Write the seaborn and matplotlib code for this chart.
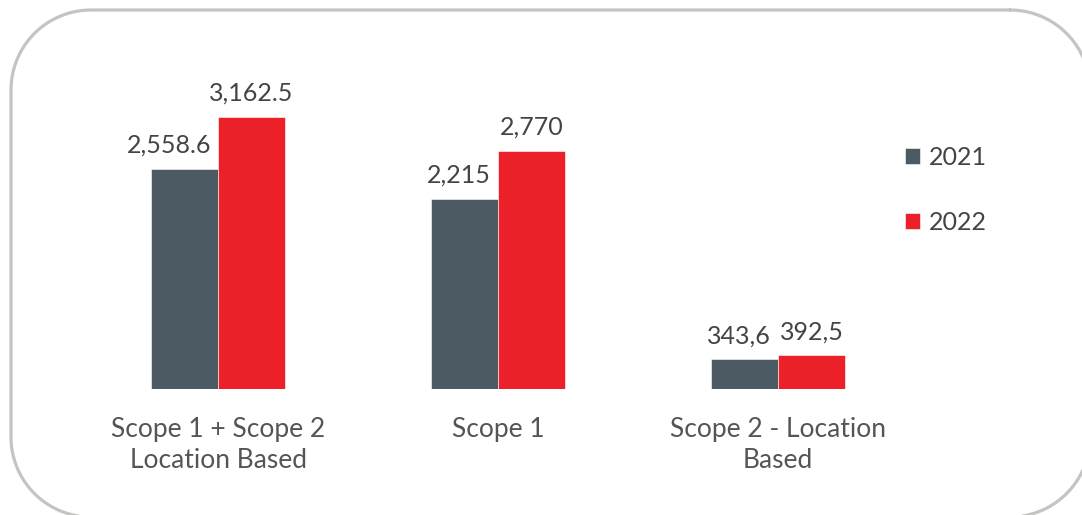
import matplotlib
matplotlib.use("Agg")
import matplotlib.pyplot as plt
import numpy as np
import pandas as pd
import seaborn as sns

# Emissions by scope, two reporting years
categories = ["Scope 1 + Scope 2\nLocation Based", "Scope 1", "Scope 2 - Location\nBased"]
years = ["2021", "2022"]
values_2021 = [2558.6, 2215, 343.6]
values_2022 = [3162.5, 2770, 392.5]
labels_2021 = ["2,558.6", "2,215", "343,6"]
labels_2022 = ["3,162.5", "2,770", "392,5"]

GRAY = "#4c5a64"
RED = "#ec2028"
TEXT = "#444444"
FONT = ["Lato", "DejaVu Sans"]

df = pd.DataFrame({
    "category": categories * 2,
    "year": [years[0]] * 3 + [years[1]] * 3,
    "value": values_2021 + values_2022,
})

sns.set_theme(style="white")
plt.rcParams["font.family"] = FONT

W, H = 1082, 515
fig = plt.figure(figsize=(W / 100, H / 100), dpi=100)


def rounded_rect(x0, y0, x1, y1, r, n=40):
    """Outline of a rounded rectangle in pixel coords (y downward)."""
    pts = []
    corners = [(x1 - r, y0 + r, -90, 0), (x1 - r, y1 - r, 0, 90),
               (x0 + r, y1 - r, 90, 180), (x0 + r, y0 + r, 180, 270)]
    for cx, cy, a0, a1 in corners:
        a = np.radians(np.linspace(a0, a1, n))
        pts.append(np.column_stack([cx + r * np.cos(a), cy + r * np.sin(a)]))
    pts = np.vstack(pts + [pts[0][:1]])
    return pts[:, 0], pts[:, 1]


# Rounded frame drawn in pixel space
bg = fig.add_axes([0, 0, 1, 1])
bg.set_xlim(0, W)
bg.set_ylim(H, 0)
bg.axis("off")
fx, fy = rounded_rect(11, 10, 1090, 517, 80)
bg.plot(fx, fy, color="#c4c4c0", linewidth=2.3, clip_on=False,
        solid_joinstyle="round")

# Plot area: baseline at y=389 px, 0..3500 spans 301 px
ax = fig.add_axes([78 / W, (H - 389) / H, 840 / W, 301 / H])
sns.barplot(data=df, x="category", y="value", hue="year",
            palette=[GRAY, RED], width=0.48, saturation=1,
            edgecolor="white", linewidth=0.4, ax=ax)
ax.set_xlim(-0.5, 2.5)
ax.set_ylim(0, 3500)
ax.set_xlabel("")
ax.set_ylabel("")
ax.set_yticks([])
for s in ax.spines.values():
    s.set_visible(False)
ax.tick_params(axis="x", length=0, pad=20)
for t in ax.get_xticklabels():
    t.set_fontsize(19)
    t.set_color("#555555")
    t.set_linespacing(1.32)

# Value labels above the bars
for container, labels, ha, dx in [(ax.containers[0], labels_2021, "right", -7),
                                  (ax.containers[1], labels_2022, "center", 0)]:
    for bar, lab in zip(container, labels):
        if ha == "right":
            x = bar.get_x() + bar.get_width()
        else:
            x = bar.get_x() + bar.get_width() / 2
        ax.annotate(lab, (x, bar.get_height()), xytext=(dx * 0.72, 11.5),
                    textcoords="offset points", ha=ha, va="baseline",
                    fontsize=18, color=TEXT)

leg = ax.legend(loc="upper left", bbox_to_anchor=(905 / W, (H - 146) / H),
                bbox_transform=fig.transFigure, frameon=False, fontsize=18,
                handlelength=0.6, handleheight=0.6, handletextpad=0.35,
                labelspacing=1.67, borderaxespad=0, borderpad=0)
for t in leg.get_texts():
    t.set_color(TEXT)

fig.savefig("out.png", dpi=100)
